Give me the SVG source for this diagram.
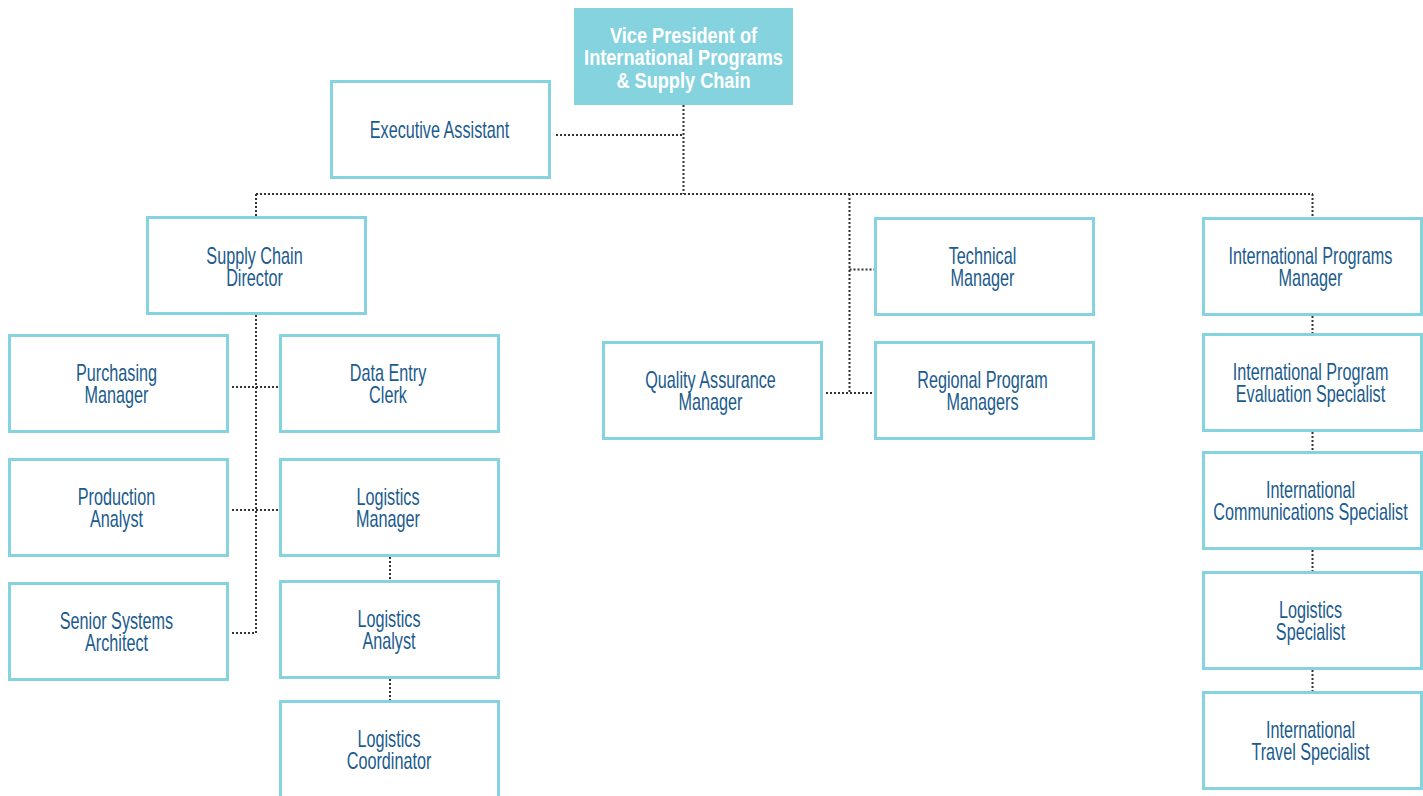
<svg xmlns="http://www.w3.org/2000/svg" width="1423" height="796" viewBox="0 0 1423 796">
<style>
.box{fill:#ffffff;stroke:#86d3e0;stroke-width:3}
.t{font-family:"Liberation Sans",Arial,sans-serif;font-size:23px;fill:#1b5b8e;text-anchor:middle}
.tw{font-family:"Liberation Sans",Arial,sans-serif;font-size:22.5px;font-weight:bold;fill:#ffffff;text-anchor:middle}
.c{fill:none;stroke:#333333;stroke-width:2;stroke-dasharray:2 2}
</style>
<rect width="1423" height="796" fill="#ffffff"/>
<g id="connectors">
<path class="c" d="M683.5 105V194M556 135H683.5M256 194H1313M256 194V216M1312.5 194V217M849.5 194V393M849.5 269.5H874M826 393H874M256 315V633M232 387H279M232 510H279M232 633H256M390 557V580M390 679V700M1312.5 316V333M1312.5 432V451M1312.5 550V571M1312.5 670V691"/>
</g>
<g id="vp">
<rect x="574" y="8" width="219" height="97" fill="#86d3e0"/>
<g transform="matrix(0.808 0 0 1 683.5 0)">
<text class="tw" x="0" y="43">Vice President of</text>
<text class="tw" x="0" y="65.5">International Programs</text>
<text class="tw" x="0" y="88">&amp; Supply Chain</text>
</g>
</g>
<g id="executive-assistant">
<rect class="box" x="331.5" y="81.5" width="218" height="96"/>
<g transform="matrix(0.705 0 0 1 439.5 0)"><text class="t" x="0" y="138">Executive Assistant</text></g>
</g>
<g id="supply-chain-director">
<rect class="box" x="147.5" y="217.5" width="218" height="96"/>
<g transform="matrix(0.705 0 0 1 254.5 0)"><text class="t" x="0" y="264.5">Supply Chain</text><text class="t" x="0" y="286.5">Director</text></g>
</g>
<g id="purchasing-manager">
<rect class="box" x="9.5" y="335.5" width="218" height="96"/>
<g transform="matrix(0.705 0 0 1 116.5 0)"><text class="t" x="0" y="381.5">Purchasing</text><text class="t" x="0" y="403.5">Manager</text></g>
</g>
<g id="production-analyst">
<rect class="box" x="9.5" y="459.5" width="218" height="96"/>
<g transform="matrix(0.705 0 0 1 116.5 0)"><text class="t" x="0" y="505.5">Production</text><text class="t" x="0" y="527.5">Analyst</text></g>
</g>
<g id="senior-systems-architect">
<rect class="box" x="9.5" y="583.5" width="218" height="96"/>
<g transform="matrix(0.705 0 0 1 116.5 0)"><text class="t" x="0" y="629.5">Senior Systems</text><text class="t" x="0" y="651.5">Architect</text></g>
</g>
<g id="data-entry-clerk">
<rect class="box" x="280.5" y="335.5" width="218" height="96"/>
<g transform="matrix(0.705 0 0 1 388 0)"><text class="t" x="0" y="381.5">Data Entry</text><text class="t" x="0" y="403.5">Clerk</text></g>
</g>
<g id="logistics-manager">
<rect class="box" x="280.5" y="459.5" width="218" height="96"/>
<g transform="matrix(0.705 0 0 1 388 0)"><text class="t" x="0" y="505.5">Logistics</text><text class="t" x="0" y="527.5">Manager</text></g>
</g>
<g id="logistics-analyst">
<rect class="box" x="280.5" y="581.5" width="218" height="96"/>
<g transform="matrix(0.705 0 0 1 389 0)"><text class="t" x="0" y="627.5">Logistics</text><text class="t" x="0" y="649.5">Analyst</text></g>
</g>
<g id="logistics-coordinator">
<rect class="box" x="280.5" y="701.5" width="218" height="96"/>
<g transform="matrix(0.705 0 0 1 389 0)"><text class="t" x="0" y="747.5">Logistics</text><text class="t" x="0" y="769.5">Coordinator</text></g>
</g>
<g id="quality-assurance-manager">
<rect class="box" x="603.5" y="342.5" width="218" height="96"/>
<g transform="matrix(0.705 0 0 1 710.5 0)"><text class="t" x="0" y="388.5">Quality Assurance</text><text class="t" x="0" y="410.5">Manager</text></g>
</g>
<g id="technical-manager">
<rect class="box" x="875.5" y="218.5" width="218" height="96"/>
<g transform="matrix(0.705 0 0 1 982.5 0)"><text class="t" x="0" y="264.5">Technical</text><text class="t" x="0" y="286.5">Manager</text></g>
</g>
<g id="regional-program-managers">
<rect class="box" x="875.5" y="342.5" width="218" height="96"/>
<g transform="matrix(0.705 0 0 1 982.5 0)"><text class="t" x="0" y="388.5">Regional Program</text><text class="t" x="0" y="410.5">Managers</text></g>
</g>
<g id="international-programs-manager">
<rect class="box" x="1203.5" y="218.5" width="218" height="96"/>
<g transform="matrix(0.705 0 0 1 1310.5 0)"><text class="t" x="0" y="264.5">International Programs</text><text class="t" x="0" y="286.5">Manager</text></g>
</g>
<g id="evaluation-specialist">
<rect class="box" x="1203.5" y="334.5" width="218" height="96"/>
<g transform="matrix(0.705 0 0 1 1310.5 0)"><text class="t" x="0" y="380.5">International Program</text><text class="t" x="0" y="402.5">Evaluation Specialist</text></g>
</g>
<g id="communications-specialist">
<rect class="box" x="1203.5" y="452.5" width="218" height="96"/>
<g transform="matrix(0.705 0 0 1 1310.5 0)"><text class="t" x="0" y="498.5">International</text><text class="t" x="0" y="520.5">Communications Specialist</text></g>
</g>
<g id="logistics-specialist">
<rect class="box" x="1203.5" y="572.5" width="218" height="96"/>
<g transform="matrix(0.705 0 0 1 1310.5 0)"><text class="t" x="0" y="618.5">Logistics</text><text class="t" x="0" y="640.5">Specialist</text></g>
</g>
<g id="travel-specialist">
<rect class="box" x="1203.5" y="692.5" width="218" height="96"/>
<g transform="matrix(0.705 0 0 1 1310.5 0)"><text class="t" x="0" y="738.5">International</text><text class="t" x="0" y="760.5">Travel Specialist</text></g>
</g>
</svg>
